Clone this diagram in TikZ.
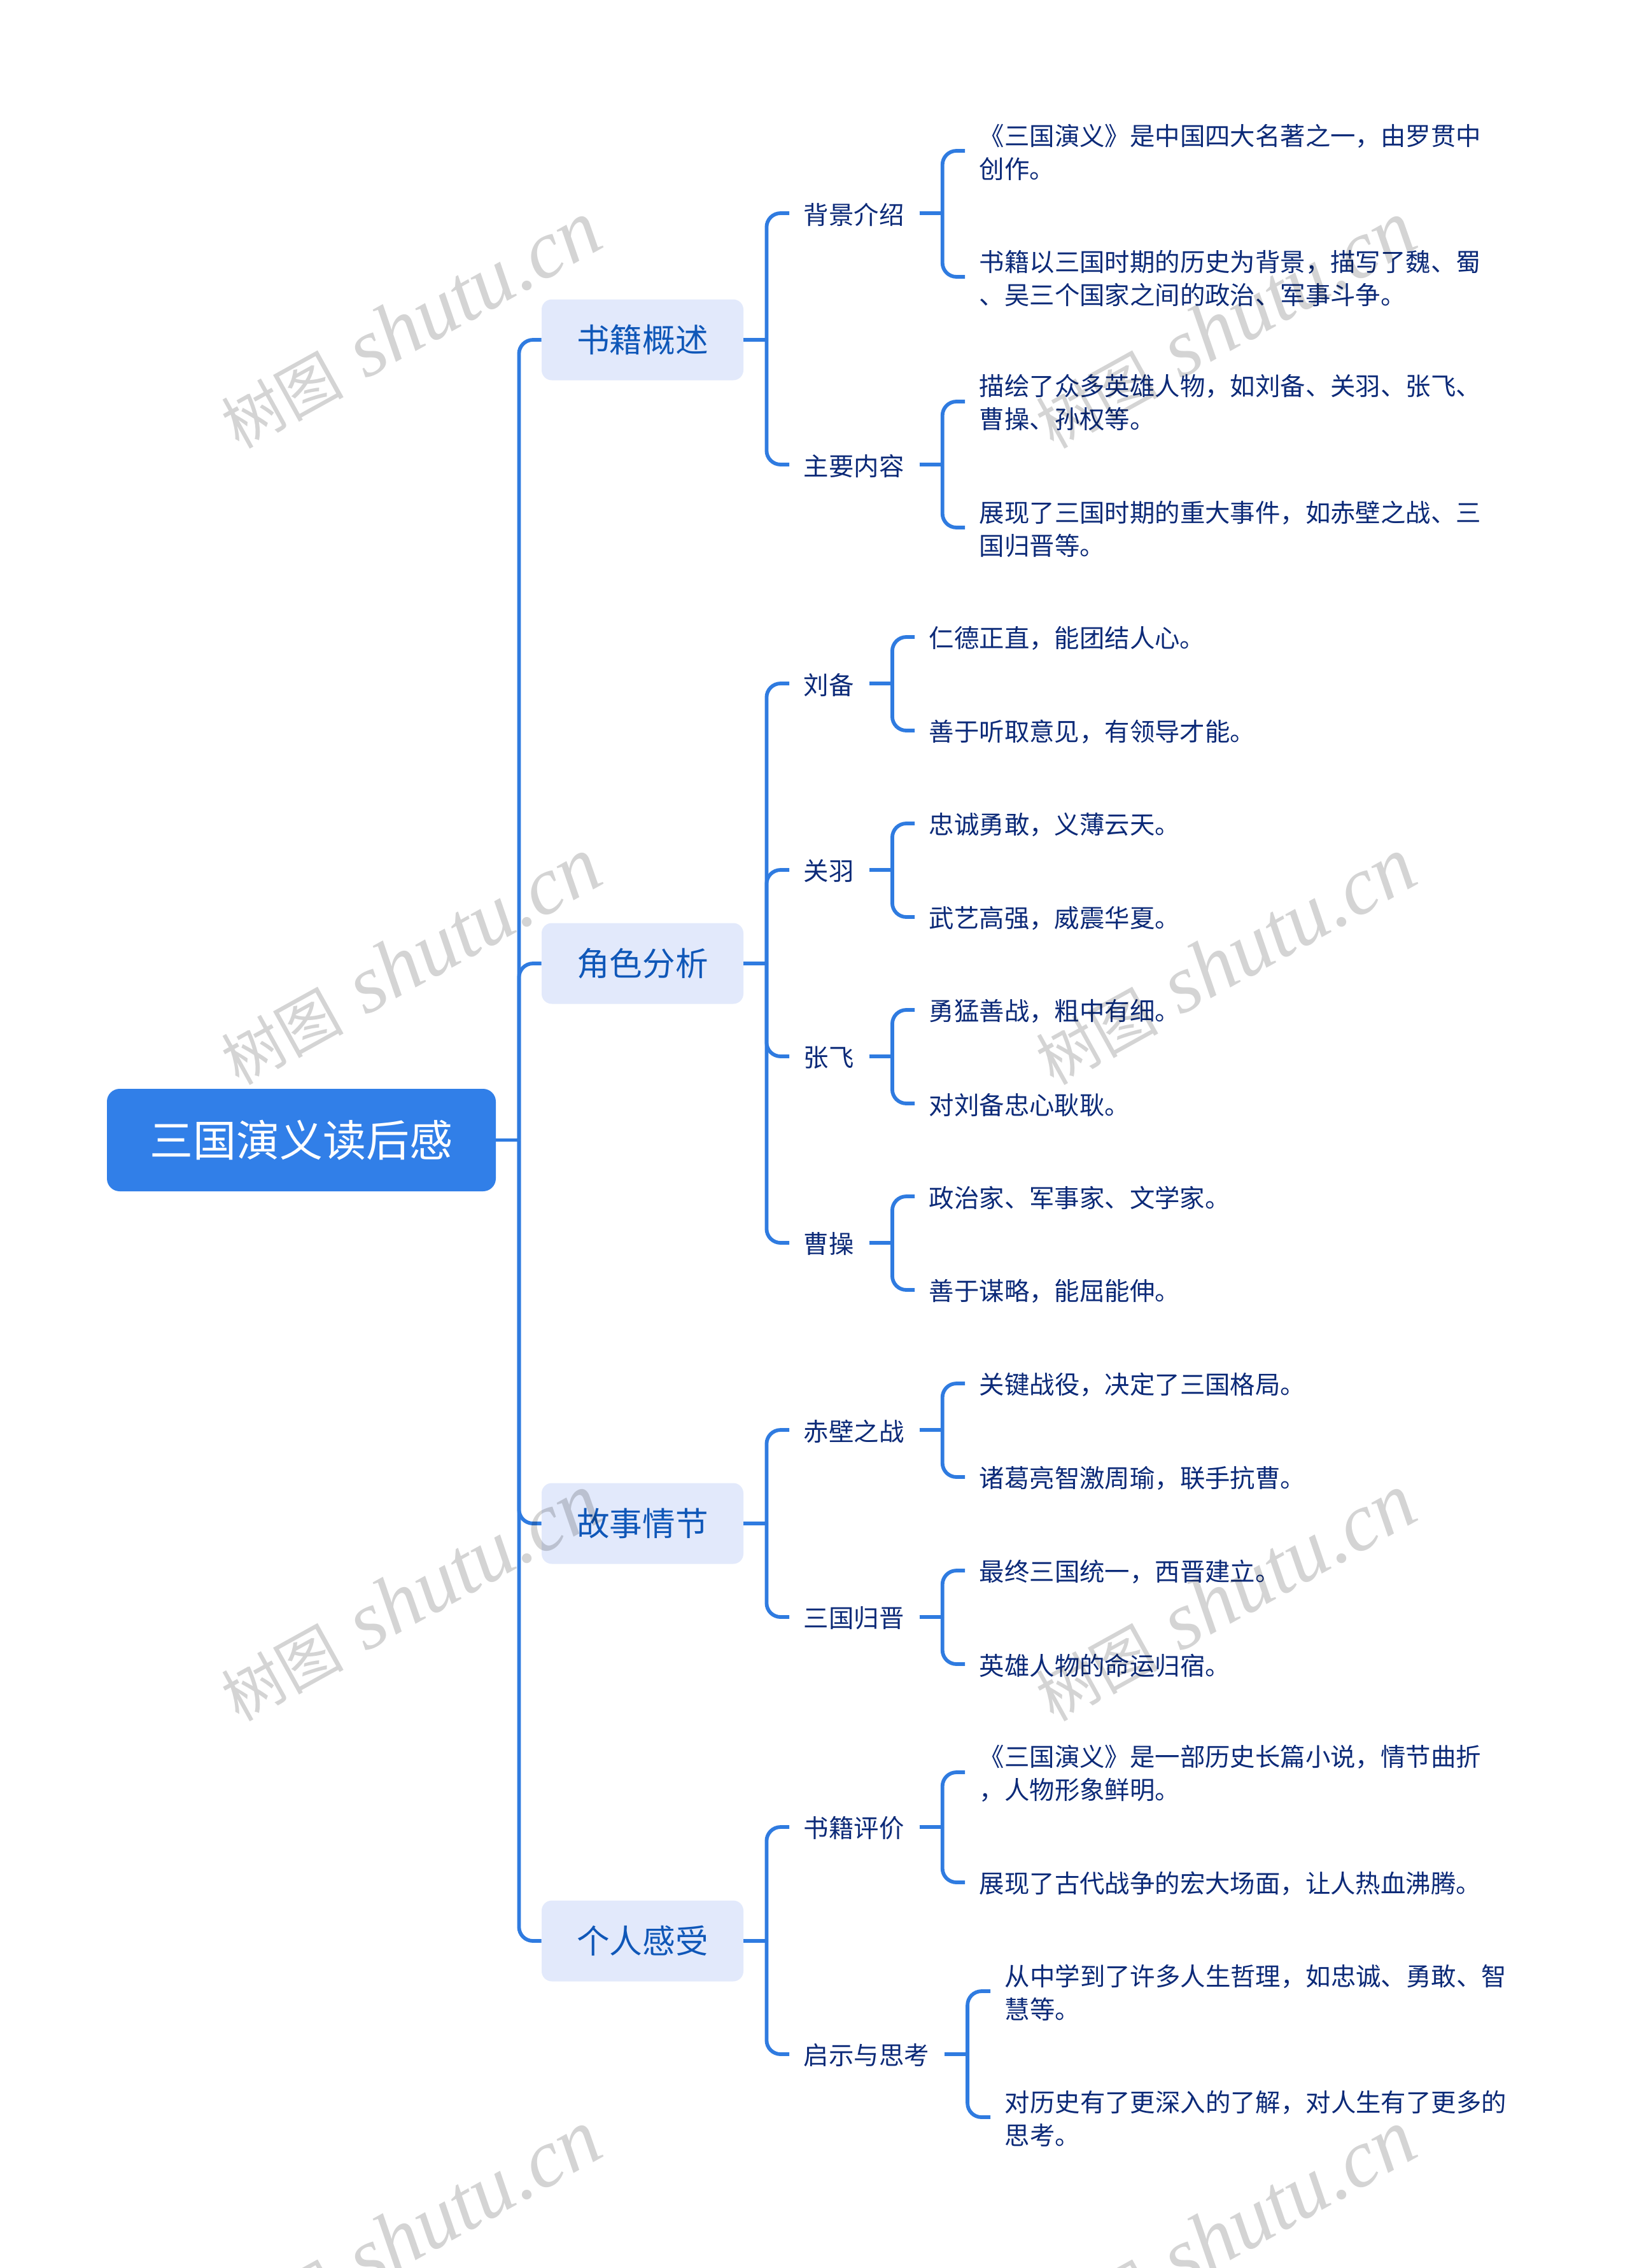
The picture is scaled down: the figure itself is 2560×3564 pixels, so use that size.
\documentclass[tikz,border=0pt]{standalone}
\usepackage{fontspec}
\setmainfont{Noto Sans CJK SC}
\newfontfamily\wmcjk{Noto Sans CJK SC}
\newfontfamily\wmlat[Ligatures=TeX]{Liberation Serif Italic}
\definecolor{linec}{HTML}{2F7BE0}
\definecolor{rootc}{HTML}{317FE8}
\definecolor{boxc}{HTML}{E2E9FB}
\definecolor{lonec}{HTML}{0F57B8}
\definecolor{leafc}{HTML}{0C2A78}
\tikzset{
  x=0.5pt,y=-0.5pt,
  conn/.style={draw=linec,line width=2.9pt},
  rootbox/.style={fill=rootc,rounded corners=10pt,inner sep=0pt,minimum width=305.5pt,minimum height=80.5pt,text=white,font=\fontsize{34pt}{40pt}\selectfont},
  lonebox/.style={fill=boxc,rounded corners=8pt,inner sep=0pt,minimum width=158.5pt,minimum height=63.5pt,text=lonec,font=\fontsize{25.8pt}{30pt}\selectfont},
  ltwo/.style={anchor=west,inner ysep=0pt,inner xsep=11.2pt,yshift=-1pt,text=leafc,font=\fontsize{19.7pt}{26pt}\selectfont},
  lthree/.style={anchor=west,inner ysep=0pt,inner xsep=11.2pt,yshift=-1pt,text=leafc,align=left,font=\fontsize{19.7pt}{26pt}\selectfont},
  wm/.style={rotate=29,anchor=base west,text=black,opacity=0.17,inner sep=0pt},
}
% root to level one
\newcommand{\lnkR}[2]{%
  \draw[conn] (#1.east) -- ++(36,0) coordinate (jn);
  \draw[conn,rounded corners=11pt] (jn) |- (#2.west);}
% level one to level two
\newcommand{\lnkA}[2]{%
  \path (#2.west) ++(0,-2) coordinate (en);
  \draw[conn] (#1.east) -- ++(36,0) coordinate (jn);
  \draw[conn,rounded corners=11pt] (jn) |- (en);}
% level two to level three
\newcommand{\lnkB}[2]{%
  \path (#1.east) ++(1.5,-2) coordinate (st);
  \path (#2.west) ++(0,-2) coordinate (en);
  \draw[conn] (st) -- ++(36,0) coordinate (jn);
  \draw[conn,rounded corners=11pt] (jn) |- (en);}
\newcommand{\wmark}[2]{\node[wm] (#1) at (#2) {{\fontsize{48pt}{50pt}\selectfont\wmcjk 树图}\hspace{18pt}{\fontsize{64.5pt}{70pt}\selectfont\wmlat shutu.cn}};}
\begin{document}
\begin{tikzpicture}
\useasboundingbox (0,0) rectangle (2560,3564);
\clip (0,0) rectangle (2560,3564);
\fill[white] (0,0) rectangle (2560,3564);
% root and level one
\node[rootbox] (root) at (473.5,1791.5) {三国演义读后感};
\node[lonebox] (a) at (1009.5,534) {书籍概述};
\node[lonebox] (b) at (1009.5,1514) {角色分析};
\node[lonebox] (c) at (1009.5,2394) {故事情节};
\node[lonebox] (d) at (1009.5,3050) {个人感受};
% level two
\node[ltwo] (a1) at (1240,335) {背景介绍};
\node[ltwo] (a2) at (1240,730) {主要内容};
\node[ltwo] (b1) at (1240,1074) {刘备};
\node[ltwo] (b2) at (1240,1367) {关羽};
\node[ltwo] (b3) at (1240,1660) {张飞};
\node[ltwo] (b4) at (1240,1953) {曹操};
\node[ltwo] (c1) at (1240,2247) {赤壁之战};
\node[ltwo] (c2) at (1240,2541) {三国归晋};
\node[ltwo] (d1) at (1240,2871) {书籍评价};
\node[ltwo] (d2) at (1240,3228) {启示与思考};
% level three
\node[lthree] (a11) at (1516,237) {《三国演义》是中国四大名著之一，由罗贯中\\创作。};
\node[lthree] (a12) at (1516,435) {书籍以三国时期的历史为背景，描写了魏、蜀\\、吴三个国家之间的政治、军事斗争。};
\node[lthree] (a21) at (1516,631) {描绘了众多英雄人物，如刘备、关羽、张飞、\\曹操、孙权等。};
\node[lthree] (a22) at (1516,829) {展现了三国时期的重大事件，如赤壁之战、三\\国归晋等。};
\node[lthree] (b11) at (1437,1001) {仁德正直，能团结人心。};
\node[lthree] (b12) at (1437,1148) {善于听取意见，有领导才能。};
\node[lthree] (b21) at (1437,1294) {忠诚勇敢，义薄云天。};
\node[lthree] (b22) at (1437,1441) {武艺高强，威震华夏。};
\node[lthree] (b31) at (1437,1587) {勇猛善战，粗中有细。};
\node[lthree] (b32) at (1437,1734) {对刘备忠心耿耿。};
\node[lthree] (b41) at (1437,1880) {政治家、军事家、文学家。};
\node[lthree] (b42) at (1437,2027) {善于谋略，能屈能伸。};
\node[lthree] (c11) at (1516,2174) {关键战役，决定了三国格局。};
\node[lthree] (c12) at (1516,2321) {诸葛亮智激周瑜，联手抗曹。};
\node[lthree] (c21) at (1516,2468) {最终三国统一，西晋建立。};
\node[lthree] (c22) at (1516,2615) {英雄人物的命运归宿。};
\node[lthree] (d11) at (1516,2785) {《三国演义》是一部历史长篇小说，情节曲折\\，人物形象鲜明。};
\node[lthree] (d12) at (1516,2958) {展现了古代战争的宏大场面，让人热血沸腾。};
\node[lthree] (d21) at (1556,3129) {从中学到了许多人生哲理，如忠诚、勇敢、智\\慧等。};
\node[lthree] (d22) at (1556,3327) {对历史有了更深入的了解，对人生有了更多的\\思考。};
% connectors
\foreach \c in {a,b,c,d}{\lnkR{root}{\c}}
\foreach \c in {a1,a2}{\lnkA{a}{\c}}
\foreach \c in {b1,b2,b3,b4}{\lnkA{b}{\c}}
\foreach \c in {c1,c2}{\lnkA{c}{\c}}
\foreach \c in {d1,d2}{\lnkA{d}{\c}}
\foreach \p in {a1,a2,b1,b2,b3,b4,c1,c2,d1,d2}{\lnkB{\p}{\p1}\lnkB{\p}{\p2}}
% watermarks
\wmark{w1}{375,707}
\wmark{w2}{1655,707}
\wmark{w3}{375,1707}
\wmark{w4}{1655,1707}
\wmark{w5}{375,2707}
\wmark{w6}{1655,2707}
\wmark{w7}{375,3707}
\wmark{w8}{1655,3707}
\end{tikzpicture}
\end{document}
